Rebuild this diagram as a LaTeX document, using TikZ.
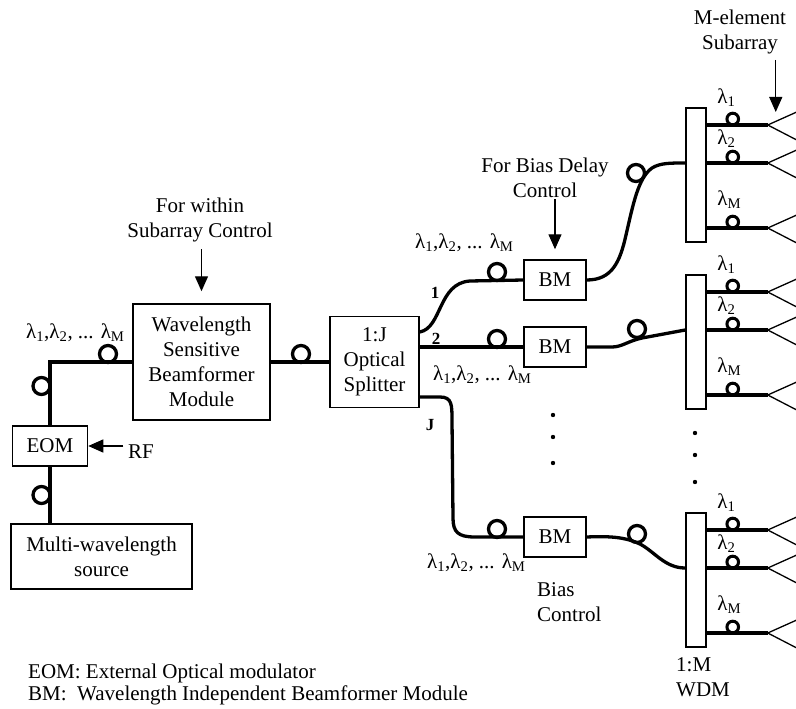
\documentclass[tikz,border=0pt]{standalone}
\usepackage{fontspec}
\setmainfont{Liberation Serif}
\usetikzlibrary{arrows.meta,calc}
\newcommand\mfs{\fontsize{21}{25}\selectfont}
\newcommand\lamsub[1]{λ\textsubscript{#1}}
\newcommand\lamlist{\lamsub{1},\lamsub{2}, ... \lamsub{M}}
\begin{document}
\begin{tikzpicture}[x=1pt,y=-1pt,
  blk/.style={draw,line width=1.5pt,inner sep=0pt,align=center,font=\mfs},
  fiber/.style={line width=3.3pt},
  bigloop/.style={line width=3.3pt},
  smloop/.style={line width=3pt},
  ant/.style={line width=1.3pt},
  ctrl/.style={line width=1.3pt,-{Triangle[length=15pt,width=13pt]}},
  lbl/.style={inner sep=0pt,font=\mfs},
  num/.style={inner sep=0pt,font=\fontsize{17}{20}\selectfont\bfseries},
  dotst/.style={fill=black}]
\useasboundingbox (0,0) rectangle (796,709);

% blocks
\node[blk,minimum width=181pt,minimum height=65pt] (src) at (101.5,556.5) {Multi-wavelength\\source};
\node[blk,minimum width=75pt,minimum height=40pt] (eom) at (50,446) {EOM};
\node[blk,minimum width=137pt,minimum height=116pt] (wsbm) at (201.5,362) {Wavelength\\Sensitive\\Beamformer\\Module};
\node[blk,minimum width=89pt,minimum height=91pt] (spl) at (374.5,362) {1:J\\Optical\\Splitter};
\node[blk,minimum width=62pt,minimum height=40pt] (bm1) at (555,280) {BM};
\node[blk,minimum width=62pt,minimum height=40pt] (bm2) at (555,347) {BM};
\node[blk,minimum width=62pt,minimum height=40pt] (bm3) at (555,537) {BM};
\node[blk,minimum width=20pt,minimum height=134pt] (wdm1) at (696,175) {};
\node[blk,minimum width=20pt,minimum height=134pt] (wdm2) at (696,342) {};
\node[blk,minimum width=20pt,minimum height=134pt] (wdm3) at (696,580) {};

% left fibers
\draw[fiber] (eom.south) -- (eom.south |- src.north);
\draw[fiber] (eom.north) |- (wsbm.west);
\draw[fiber] (wsbm.east) -- (spl.west);
\draw[bigloop] (41.5,386) circle[radius=8.5pt];
\draw[bigloop] (41.5,495) circle[radius=8.5pt];
\draw[bigloop] (108,354) circle[radius=8.5pt];
\draw[bigloop] (301,354) circle[radius=8.5pt];

% splitter branches
\coordinate (s1) at ([yshift=30pt]spl.east);
\coordinate (sJ) at ([yshift=-35pt]spl.east);
\draw[fiber] (s1) .. controls (442,328) and (438,283) .. (470,281) -- (bm1.west);
\draw[fiber] (spl.east |- bm2.west) -- (bm2.west);
\draw[fiber] (sJ) -- (440,397) .. controls (452,397) and (452,405) .. (452,420) -- (453,518) .. controls (453,532) and (458,537) .. (475,537) -- (bm3.west);
\draw[bigloop] (497,272) circle[radius=8.5pt];
\draw[bigloop] (497,339) circle[radius=8.5pt];
\draw[bigloop] (497,529) circle[radius=8.5pt];

% BM to WDM
\coordinate (w1in) at ([yshift=12pt]wdm1.west);
\coordinate (w2in) at ([yshift=12pt]wdm2.west);
\coordinate (w3in) at ([yshift=12pt]wdm3.west);
\draw[fiber] (bm1.east) .. controls (612,280) and (620,262) .. (626,235) .. controls (633,205) and (638,178) .. (652,168) .. controls (660,163) and (670,163) .. (w1in);
\draw[fiber] (bm2.east) -- (612,347) .. controls (622,347) and (628,341) .. (642,338) -- (w2in);
\draw[fiber] (bm3.east) .. controls (610,536) and (625,537) .. (640,544) .. controls (655,552) and (665,568) .. (w3in);
\draw[bigloop] (636,173) circle[radius=8.5pt];
\draw[bigloop] (637,329) circle[radius=8.5pt];
\draw[bigloop] (637,534) circle[radius=8.5pt];

% WDM outputs and antennas
\foreach \w in {wdm1,wdm2,wdm3}{
  \foreach \s/\k in {50/1,12/2,-53/3}{
    \draw[fiber] ([yshift=\s pt]\w.east) -- ++(61,0) coordinate (\w-o\k);
    \draw[smloop] ([yshift=\s pt]\w.east) ++(26,-6) circle[radius=5.8pt];
    \draw[ant] (\w-o\k) -- ++(29,-13);
    \draw[ant] (\w-o\k) -- ++(29,15);
  }
  \node[lbl,anchor=base west] (\w-l1) at ($(\w.north west)+(32,-4)$) {\lamsub{1}};
  \node[lbl,anchor=base west] (\w-l2) at ($(\w.north west)+(32,37)$) {\lamsub{2}};
  \node[lbl,anchor=base west] (\w-l3) at ($(\w.north west)+(32,98)$) {\lamsub{M}};
}

% wavelength labels
\node[lbl,anchor=base west] (lamL) at (26,338) {\lamlist};
\node[lbl,anchor=base west] (lamB1) at (415,248) {\lamlist};
\node[lbl,anchor=base west] (lamB2) at (433,380) {\lamlist};
\node[lbl,anchor=base west] (lamB3) at (427,568) {\lamlist};

% port numbers
\node[num] (n1) at (435,293) {1};
\node[num] (n2) at (436,339) {2};
\node[num] (nJ) at (430,425) {J};

% control labels and arrows
\node[lbl,align=center] (ctlA) at (200,220) {For within\\Subarray Control};
\draw[ctrl] ($(wsbm.north)+(0,-54)$) -- ($(wsbm.north)+(0,-12)$);
\node[lbl,align=center] (ctlB) at (545,178) {For Bias Delay\\Control};
\draw[ctrl] ($(bm1.north)+(0,-60)$) -- ($(bm1.north)+(0,-10)$);
\node[lbl,align=center] (ctlC) at (740,32) {M-element\\Subarray};
\draw[ctrl] ($(wdm1-o1)+(8,-65)$) -- ($(wdm1-o1)+(8,-13)$);
\node[lbl,align=left,anchor=west] (bias) at (537,602) {Bias\\Control};
\node[lbl,align=left,anchor=west] (wdmlbl) at (676,677) {1:M\\WDM};
\node[lbl,anchor=west] (rf) at (128,452) {RF};
\draw[ctrl] ($(eom.east)+(35,0)$) -- (eom.east);

% dots
\fill[dotst] (553,415) circle[radius=2.2pt];
\fill[dotst] (553,437) circle[radius=2.2pt];
\fill[dotst] (553,463) circle[radius=2.2pt];
\fill[dotst] (695,433) circle[radius=2.2pt];
\fill[dotst] (695,455) circle[radius=2.2pt];
\fill[dotst] (695,482) circle[radius=2.2pt];

% legend
\node[lbl,anchor=base west] (leg1) at (28,678) {EOM: External Optical modulator};
\node[lbl,anchor=base west] (leg2) at (28,700) {BM:\ \ Wavelength Independent Beamformer Module};
\end{tikzpicture}
\end{document}
